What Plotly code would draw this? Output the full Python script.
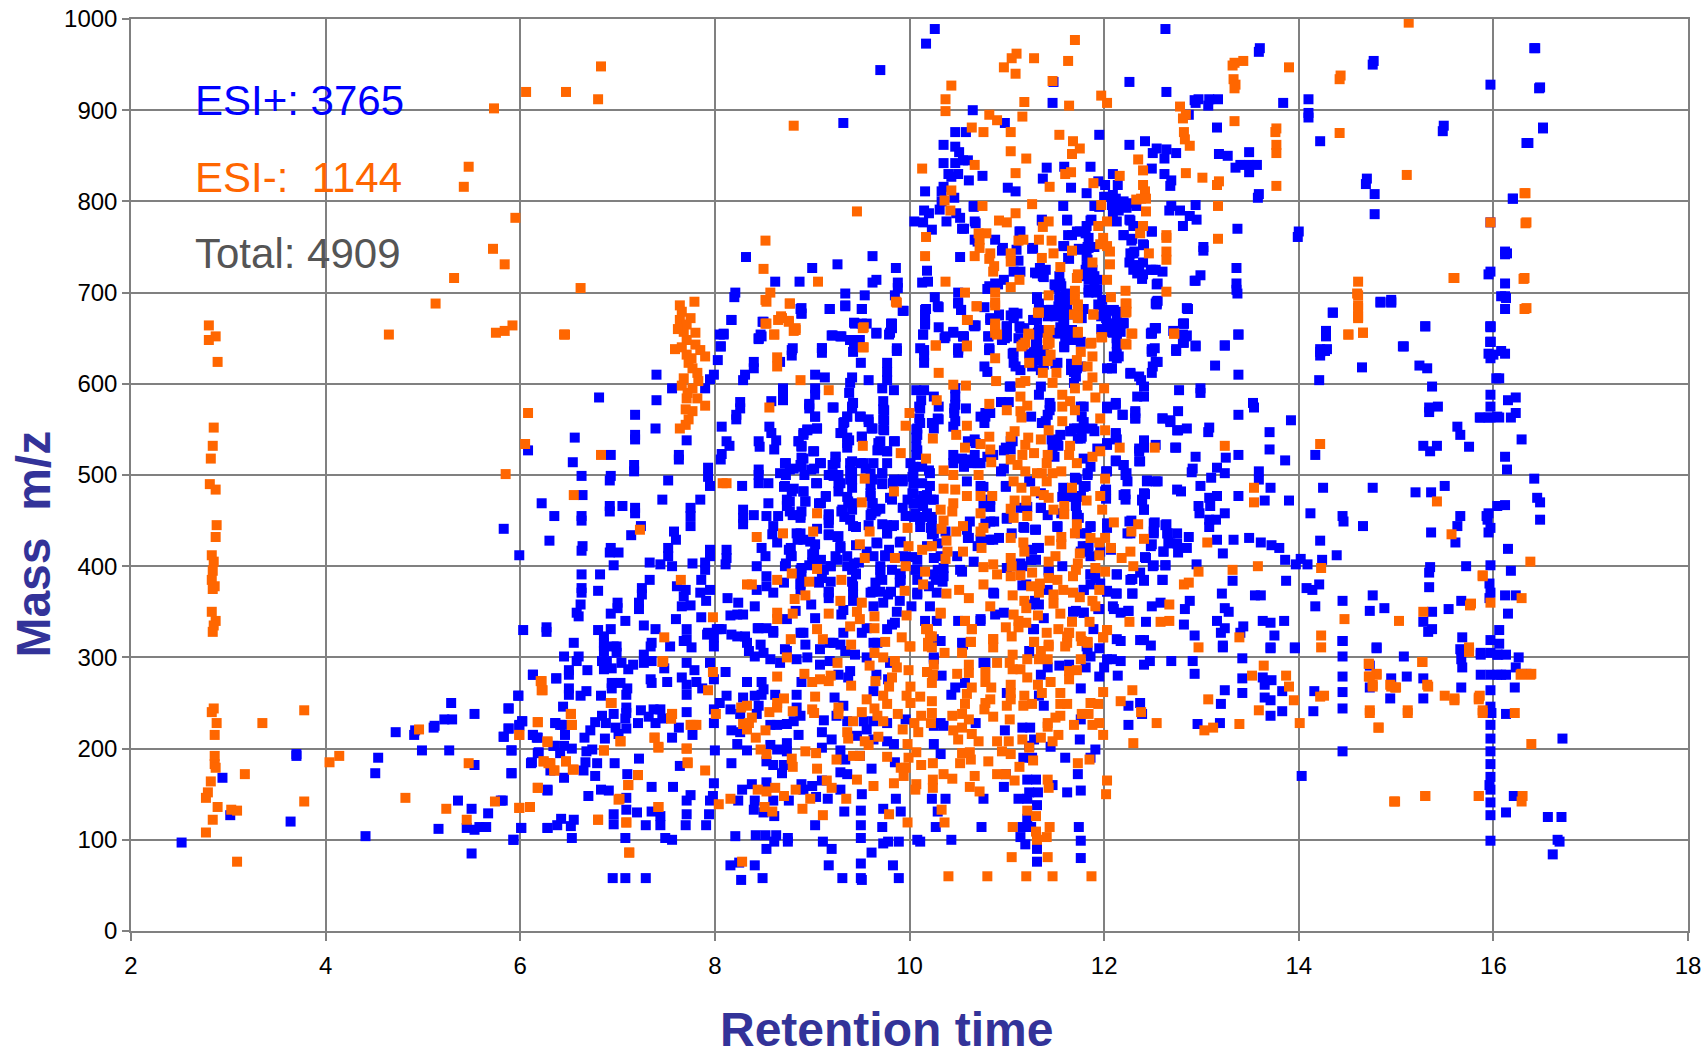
import plotly.graph_objects as go

x_ticks = [2, 4, 6, 8, 10, 12, 14, 16, 18]
y_ticks = [0, 100, 200, 300, 400, 500, 600, 700, 800, 900, 1000]
labels = ["ESI+: 3765", "ESI-:  1144", "Total: 4909"]
x_title = "Retention time"
y_title = "Mass  m/z"

# ESI+ : (retention time, mass)
pos_low_left = [(2.52,97),(2.94,168),(3.02,127),(3.64,120),(3.70,194),(3.70,192),(4.41,104),(4.51,173),(4.54,190),(4.72,218),(4.92,220),(4.91,215),(4.99,198),(5.16,112),(5.11,223),(5.12,225),(5.22,232),(5.30,232),(5.27,198),(5.29,250),(5.36,143),(5.45,113),(5.50,134),(5.50,85),(5.53,238),(5.53,182),(5.53,111),(5.58,114),(5.65,114),(5.67,129),(5.80,143),(5.83,213),(5.88,222),(5.88,244),(5.91,198),(5.91,173),(5.93,100),(5.98,258),(5.99,225),(6.01,113),(6.02,230),(6.13,281),(6.13,215),(6.18,212),(6.18,195),(6.11,184),(6.28,113),(6.28,154),(6.36,228),(6.37,277),(6.43,226),(6.46,215),(6.35,203)]
pos_top_mid = [(10.26,989),(10.17,973),(9.70,944),(9.32,886),(12.26,931),(12.63,989),(12.64,920),(12.93,911),(11.48,931),(11.47,908),(10.65,900),(10.98,886),(10.47,876),(10.58,876),(10.35,862),(10.47,860),(10.51,854),(10.35,842),(10.47,842),(10.55,845),(10.60,845),(10.40,830),(10.50,830),(10.43,827),(10.75,828),(10.61,823),(10.16,811),(10.33,811),(10.35,816),(10.46,804),(10.15,790),(10.20,787),(10.31,791),(10.33,800),(10.05,778),(10.14,777),(10.38,778),(10.52,782),(10.48,787),(10.23,769),(10.67,778),(10.54,770),(10.66,795),(10.67,758),(10.88,758),(10.96,749),(10.52,739),(10.18,724),(10.13,711),(10.19,712),(9.62,740),(8.32,739),(9.00,727),(9.26,731),(9.86,727),(8.62,712),(8.87,712),(9.66,714),(9.62,711),(9.88,711),(9.88,705),(8.21,700),(8.20,695),(9.34,699),(9.54,697),(9.85,697),(8.88,682),(8.89,677),(9.18,682),(9.34,686),(9.51,682),(9.93,680),(8.17,670),(10.26,695),(10.29,685),(10.17,682),(10.16,676),(10.16,666),(10.50,700),(10.50,689),(10.53,681),(10.77,684),(10.82,707),(10.91,709),(10.83,670),(10.92,676),(11.07,678),(11.07,672),(11.00,663),(11.13,663),(11.13,767),(11.10,747),(11.27,749),(11.31,695),(11.33,688),(11.41,837),(11.37,825),(11.59,838),(11.86,838),(11.95,873),(11.66,815),(11.82,809),(11.01,815),(11.09,811),(11.58,795),(11.62,780),(11.87,780),(11.36,780),(11.90,795)]
pos_streak_12 = [(11.94,822),(12.01,818),(12.09,830),(12.14,818),(12.0,805),(12.09,807),(12.14,795),(12.23,793),(12.09,787),(12.20,800),(12.33,795),(12.26,780),(12.13,778),(12.30,773),(12.20,763),(12.28,757),(12.49,767),(12.40,753),(12.69,795),(12.67,790),(12.78,790),(12.81,773),(12.95,780),(12.88,784),(12.30,743),(12.26,733),(12.40,733),(12.50,725),(12.40,720),(12.60,723),(12.54,709),(12.93,713),(12.30,725),(12.26,862),(12.42,866),(12.54,858),(12.64,857),(12.74,853),(12.50,853),(12.62,847),(12.49,836),(12.62,830),(12.69,823),(12.68,817),(12.54,690),(12.54,687),(12.85,683),(12.81,666),(12.49,656),(12.52,661),(12.81,648),(11.63,763),(11.75,767),(11.82,773),(11.84,760),(11.84,749),(11.75,747),(11.82,740),(11.63,738),(11.58,751),(11.82,729),(11.80,718),(11.90,718),(11.90,707),(11.84,700),(11.92,700),(11.54,718),(11.49,709),(11.56,707),(11.34,727),(11.37,718),(11.29,722),(11.54,696),(11.53,685),(11.48,680),(11.61,690),(11.58,670),(11.65,676),(11.42,674),(11.56,661),(11.61,652),(11.68,648),(11.32,656),(11.30,645),(11.48,656),(11.27,670),(11.77,672),(11.94,687),(12.02,672),(12.09,680),(11.97,674),(12.04,665),(12.13,669),(12.20,667),(12.09,656),(11.97,660),(12.13,650),(10.95,648),(11.0,652),(10.81,652),(10.67,663),(10.45,656),(10.55,652),(10.36,650),(10.14,654),(10.11,639),(10.50,639),(10.82,639),(9.87,639),(9.39,648),(9.30,652),(9.21,653),(9.49,648),(9.66,656),(9.80,656),(9.82,666),(9.44,666),(9.56,666),(8.80,639),(9.10,639),(8.06,641),(8.09,654),(8.47,654),(8.45,650),(8.49,668),(12.71,658),(12.81,654),(12.52,639)]
pos_top_right = [(13.60,968),(13.59,964),(12.94,908),(12.97,912),(13.08,912),(13.17,912),(13.07,905),(13.84,908),(14.10,912),(14.10,897),(14.10,892),(14.77,954),(14.76,950),(16.43,968),(15.97,928),(16.47,924),(12.87,895),(13.16,881),(15.49,883),(15.48,877),(16.51,881),(14.22,866),(16.36,864),(13.49,854),(13.18,852),(13.27,850),(13.35,837),(13.40,840),(13.49,840),(13.57,840),(13.49,832),(14.70,825),(14.69,819),(14.78,808),(13.59,808),(13.58,804),(16.20,803),(14.78,786),(12.94,796),(13.37,770),(14.0,767),(13.99,761),(13.02,750),(13.02,746),(16.12,745),(16.14,743),(15.97,723),(12.99,719),(12.94,713),(13.36,727),(13.36,710),(13.36,703),(13.37,699),(12.55,691),(12.54,688),(12.86,682),(12.82,666),(12.53,661),(12.49,656),(12.85,653),(12.82,645),(12.94,642),(13.38,654),(13.24,642),(12.49,638),(12.74,638),(14.84,690),(14.95,692),(14.95,690),(14.35,678),(14.28,658),(14.28,653),(14.22,638),(14.29,638),(15.30,663),(15.07,641),(15.97,663),(15.97,646),(16.08,696),(16.13,694),(16.12,682),(16.08,636)]
pos_mid_a = [(7.40,610),(7.56,595),(6.81,585),(7.40,582),(7.18,566),(6.56,541),(7.39,551),(7.18,544),(7.18,539),(7.71,538),(6.08,527),(6.93,522),(7.63,522),(7.63,517),(6.54,514),(7.17,511),(7.17,504),(6.63,499),(6.93,499),(6.92,494),(7.52,494),(7.93,508),(7.93,498),(7.95,488),(6.64,478),(6.22,469),(7.46,473),(7.85,473),(6.92,466),(6.92,460),(7.05,466),(7.18,464),(7.18,458),(6.63,455),(6.63,450),(6.35,455),(7.75,464),(7.75,455),(7.75,444),(7.24,444),(5.83,441),(6.30,428),(7.14,434),(7.58,438),(7.60,429),(6.64,422),(6.63,417),(6.93,420),(6.92,415),(7.01,415),(7.52,420),(7.52,411),(5.99,412),(7.33,404),(7.44,402),(7.56,400),(6.96,401),(7.77,403),(7.95,418),(7.95,411),(7.90,404),(7.90,396),(8.12,418),(8.12,409),(8.11,402),(6.63,391),(6.82,391),(7.33,385),(7.86,385),(6.63,376),(6.63,371),(6.80,373),(7.25,376),(7.25,369),(7.61,378),(7.70,374),(7.85,371),(7.95,374),(7.68,367),(7.91,362),(6.62,358),(7.0,360),(7.22,360),(7.22,353),(7.0,354),(7.66,356),(7.75,357),(6.58,349),(6.60,345),(6.93,348),(7.08,340),(7.60,342),(7.86,344),(8.13,365),(8.24,360),(8.41,356),(8.23,347),(8.16,346),(8.29,347),(6.03,330),(6.27,333),(6.27,328),(6.80,330),(6.93,331),(6.86,323),(7.27,335),(7.39,331),(7.71,331),(7.68,318),(7.93,327),(8.02,331),(8.07,331),(7.99,322),(8.17,325),(8.31,323),(8.45,332),(8.53,332),(8.60,327),(8.47,314),(6.55,316),(6.86,312),(6.96,312),(7.35,316),(7.54,312),(7.76,311),(7.99,312),(8.72,309),(8.93,314),(8.91,327),(8.74,342),(8.83,351),(8.99,358),(9.03,343),(9.30,347),(9.32,327),(9.22,316),(9.56,332),(9.63,316),(9.85,338),(9.77,331),(9.32,352),(9.42,362),(9.63,356),(9.87,350),(10.21,356),(10.16,340),(10.28,340),(10.50,340),(10.73,342),(10.88,347),(10.32,318),(10.54,316)]
pos_mid_b = [(8.05,654),(8.09,655),(8.06,641),(8.48,652),(8.45,649),(8.50,668),(8.17,670),(8.79,637),(8.79,631),(9.10,639),(9.10,634),(9.18,682),(9.34,685),(9.51,682),(9.94,680),(8.89,683),(8.89,677),(9.43,667),(9.51,666),(9.81,666),(9.82,661),(9.20,653),(9.29,652),(9.39,648),(9.66,655),(9.79,654),(10.16,681),(10.16,670),(10.16,665),(10.30,684),(10.30,662),(10.53,681),(10.50,688),(10.66,664),(10.85,670),(10.14,654),(10.45,657),(10.37,652),(10.55,652),(10.81,652),(9.42,635),(9.43,643),(9.87,636),(10.15,637),(10.15,631),(10.15,623),(10.50,634),(10.50,637),(10.82,637),(9.50,623),(9.77,623),(9.77,613),(8.03,626),(8.40,624),(8.40,617),(8.67,624),(8.31,610),(8.29,604),(7.99,610),(7.95,605),(7.90,595),(9.03,610),(9.13,607),(9.41,607),(9.58,604),(9.39,601),(9.77,604),(9.72,595),(9.84,593),(8.70,595),(8.70,588),(8.70,582),(9.03,595),(9.03,588),(9.38,590),(10.07,593),(10.15,593),(10.12,582),(10.11,573),(10.25,586),(10.30,575),(10.47,595),(10.47,586),(10.46,573),(10.58,573),(8.26,580),(8.26,573),(8.22,566),(8.22,561),(8.58,581),(8.97,578),(8.97,573),(9.21,574),(9.42,579),(9.41,573),(9.73,581),(9.73,572),(9.73,561),(9.73,550),(9.36,564),(9.32,557),(9.49,564),(9.58,561),(9.61,551),(9.03,564),(8.07,553),(8.56,553),(8.58,546),(9.05,551),(8.95,550),(8.91,544),(9.29,546),(9.36,541),(9.51,542),(10.11,557),(10.07,550),(10.07,541),(10.25,551),(10.30,561),(10.47,559),(10.45,553),(10.73,564),(10.78,568),(10.77,557),(10.67,539),(10.60,537),(8.12,537),(8.15,532),(8.07,523),(8.06,517),(8.45,537),(8.46,531),(8.63,538),(8.61,528),(8.86,537),(8.89,532),(9.01,526),(9.36,535),(9.36,530),(9.68,535),(9.68,528),(9.77,526),(9.85,537),(10.07,531),(10.07,522),(9.24,520),(9.24,513),(9.39,513),(9.53,513),(9.63,513),(9.77,513),(10.45,522),(10.45,513),(10.60,517),(10.67,522),(10.73,513),(10.86,522)]
pos_mid_c = [(8.45,506),(8.45,500),(8.72,513),(8.67,502),(8.77,506),(8.89,519),(8.89,509),(8.99,506),(9.08,513),(9.22,499),(9.17,500),(9.27,500),(9.41,504),(9.41,495),(9.60,502),(9.72,502),(9.72,490),(10.04,509),(10.04,502),(10.13,509),(10.21,502),(10.04,491),(10.13,491),(10.21,488),(9.93,493),(8.45,491),(8.55,491),(8.28,488),(8.72,488),(9.04,491),(9.29,491),(9.41,486),(9.60,489),(9.83,491),(10.04,480),(10.14,477),(10.25,473),(10.59,493),(10.73,488),(10.76,466),(10.83,473),(8.79,482),(8.91,482),(8.77,471),(8.74,466),(8.93,471),(9.14,477),(9.07,469),(9.27,482),(9.37,471),(9.60,477),(9.80,475),(9.62,469),(10.04,469),(10.14,466),(8.55,469),(9.30,460),(9.41,462),(9.66,462),(9.93,464),(10.06,458),(10.18,458),(8.77,460),(8.89,460),(8.29,462),(8.40,456),(8.53,455),(8.65,455),(8.88,453),(9.17,457),(9.39,451),(9.61,458),(9.96,455),(8.29,453),(8.29,446),(8.60,444),(9.17,447),(9.42,444),(9.72,446),(9.82,444),(10.11,451),(10.23,444),(10.62,449),(10.83,449),(8.59,435),(8.84,436),(8.91,429),(9.17,435),(9.27,433),(9.77,436),(9.90,426),(10.23,435),(10.60,431),(10.73,429),(10.86,429),(8.64,426),(9.03,424),(9.66,426),(9.29,420),(9.56,416),(8.48,420),(8.76,418),(8.79,411),(8.52,411),(9.0,413),(9.24,411),(9.75,411),(9.94,411),(10.08,407),(10.25,409),(10.49,411),(10.66,405),(8.43,400),(8.72,400),(8.89,398),(9.0,404),(9.19,400),(9.36,400),(9.48,404),(9.70,400),(10.08,396),(10.35,398),(10.54,394),(8.89,391),(9.10,387),(9.45,391),(9.70,389),(8.53,389),(9.90,391),(10.25,391),(8.53,378),(8.71,382),(9.07,382),(9.42,378),(9.65,382),(9.90,382),(10.28,371),(8.43,374),(8.60,371),(8.88,380),(9.17,371),(9.42,369),(9.60,371),(9.78,369),(10.08,371),(10.86,371),(9.17,365),(9.73,360),(9.90,362),(10.02,356)]
pos_right_a = [(12.53,688),(12.86,682),(14.84,689),(14.95,689),(14.35,678),(12.82,666),(12.53,661),(12.49,655),(13.38,654),(12.84,652),(14.28,657),(14.28,652),(15.30,663),(15.97,663),(12.81,645),(12.94,641),(12.49,636),(12.74,636),(13.24,642),(15.97,646),(15.08,641),(14.22,635),(14.27,636),(14.22,631),(12.55,624),(13.14,620),(13.38,610),(14.65,618),(15.24,620),(15.32,617),(15.97,628),(16.0,632),(12.27,612),(12.36,608),(12.49,612),(14.21,604),(12.41,597),(15.37,597),(12.77,593),(12.99,595),(12.99,590),(16.03,606),(15.97,588),(12.41,586),(12.34,586),(13.53,579),(13.54,574),(15.34,574),(15.43,575),(15.34,569),(15.97,575),(12.12,579),(12.03,573),(12.76,570),(12.32,570),(12.32,562),(12.19,566),(13.38,566),(13.92,560),(15.87,563),(15.97,563),(16.04,564),(12.60,562),(12.68,560),(15.63,553),(12.85,551),(12.76,549),(13.08,552),(13.07,547),(13.70,547),(15.66,544),(12.41,538),(12.12,546),(11.88,551),(11.79,551),(11.69,551),(11.77,542),(12.74,530),(13.70,528),(15.28,532),(15.42,532),(15.35,526),(15.75,531),(14.17,522),(12.41,530),(12.36,526),(12.37,515),(12.13,539),(12.03,533),(13.38,522),(13.86,516),(12.94,520),(12.91,507),(12.90,503),(13.25,519),(13.16,508),(13.24,502),(13.10,497),(13.59,504),(13.59,495),(12.12,516),(12.20,511),(12.23,502),(12.24,493),(12.02,504),(11.83,502),(11.70,497),(12.44,494),(12.53,493),(13.71,486),(14.25,486),(14.76,486),(15.50,488),(12.79,482),(12.99,488),(15.20,481),(15.36,481),(13.38,477),(13.65,472),(13.90,472),(12.01,482),(12.22,479),(12.02,474),(12.42,479),(12.39,472),(12.41,462),(11.81,488),(11.76,477),(11.71,466),(13.16,477),(13.08,475),(12.97,466),(13.09,466),(12.98,458),(13.24,458),(13.08,451),(13.15,451),(13.08,443),(14.12,458),(14.45,455),(14.46,449),(15.66,455),(15.95,458),(16.04,466),(15.94,451),(15.97,442),(15.63,444),(14.66,444)]
pos_right_b = [(12.28,450),(12.52,448),(12.64,446),(12.51,438),(12.65,436),(12.24,436),(12.87,432),(15.36,437),(13.16,429),(13.33,429),(13.49,431),(13.61,426),(13.72,423),(13.80,420),(14.22,428),(15.61,426),(12.66,426),(12.61,416),(12.49,424),(12.85,420),(12.76,415),(13.22,414),(13.86,407),(14.02,408),(13.97,402),(14.09,402),(14.24,407),(14.39,412),(12.42,410),(12.50,400),(12.63,401),(12.95,402),(15.35,399),(15.34,393),(15.72,400),(12.03,447),(11.86,444),(11.74,453),(11.52,444),(11.29,440),(11.17,443),(12.37,393),(12.13,391),(12.29,386),(12.41,384),(12.60,385),(13.32,384),(13.87,384),(14.21,380),(14.08,376),(14.14,374),(15.34,377),(15.96,381),(15.97,371),(13.21,370),(13.55,368),(13.61,368),(12.13,370),(12.29,370),(12.03,373),(14.76,368),(12.88,362),(14.45,362),(15.67,362),(15.96,365),(14.17,356),(14.73,351),(14.88,354),(15.54,353),(12.49,356),(12.58,360),(12.83,353),(13.24,354),(13.28,350),(12.09,356),(12.17,349),(12.25,351),(11.94,353),(15.37,350),(12.43,339),(12.82,336),(13.16,340),(13.24,332),(13.43,334),(13.63,340),(13.71,338),(13.85,340),(15.28,339),(15.37,331),(15.33,328),(12.93,324),(13.20,327),(13.40,327),(13.75,324),(12.13,320),(12.17,318),(12.37,319),(12.41,319),(12.48,313),(14.45,318),(15.68,322),(15.97,319),(13.22,313),(13.71,311),(13.96,311),(14.80,311),(15.66,309)]
pos_dense_11 = [(11.45,681),(11.55,685),(11.38,681),(11.50,674),(11.60,677),(11.11,677),(11.31,670),(11.18,661),(11.0,663),(11.35,657),(11.59,659),(10.98,650),(11.52,655),(11.65,648),(11.76,646),(11.59,641),(12.03,666),(12.13,666),(12.0,677),(12.10,681),(11.96,686),(11.79,682),(12.05,657),(12.13,650),(11.28,635),(11.32,630),(11.07,634),(11.07,623),(11.14,615),(11.38,621),(11.52,623),(11.66,615),(11.72,617),(12.13,635),(12.13,628),(12.08,617),(11.03,597),(11.35,597),(11.33,588),(11.44,579),(11.44,571),(11.79,575),(11.77,564),(11.69,601),(11.25,564),(11.40,559),(11.73,540),(11.46,539),(11.53,532),(11.04,537),(10.99,530),(11.04,528),(11.65,548),(11.49,520),(10.97,507),(11.72,495),(11.24,493),(11.35,480),(11.35,464),(11.14,464),(11.0,453),(10.99,488),(11.58,486),(11.56,458),(11.05,436),(11.31,420),(11.25,407),(11.82,436),(11.84,422),(11.76,416),(11.16,400),(11.43,396),(11.57,400),(11.86,391),(11.91,387),(11.0,398),(11.20,380),(11.42,374),(11.79,374),(11.86,380),(11.29,362),(11.68,350),(11.79,349),(11.38,343),(11.28,331),(10.97,349),(11.89,331),(11.82,312)]
pos_low_a = [(6.45,301),(6.60,301),(6.58,296),(6.84,296),(6.89,296),(6.99,305),(7.04,294),(7.16,292),(7.11,287),(7.27,294),(7.35,296),(7.27,303),(7.48,288),(7.71,294),(7.95,294),(7.79,286),(6.50,286),(6.50,281),(6.69,286),(6.94,288),(6.86,287),(6.13,281),(6.37,277),(7.34,276),(7.35,272),(7.51,273),(6.94,272),(7.03,272),(7.66,278),(7.71,270),(7.81,273),(7.99,276),(8.11,284),(6.50,266),(6.50,259),(6.68,263),(6.62,258),(7.10,266),(7.09,259),(6.94,266),(6.83,258),(5.98,258),(7.71,259),(7.87,266),(8.12,258),(8.29,256),(8.33,273),(8.48,273),(8.41,258),(8.48,259),(8.62,259),(8.50,265),(8.84,259),(8.89,273),(9.23,256),(5.88,244),(6.44,246),(7.09,245),(7.09,239),(7.24,242),(7.37,243),(7.44,243),(6.84,236),(6.96,238),(7.32,235),(7.46,233),(7.08,233),(7.71,240),(8.05,250),(7.99,243),(8.16,243),(8.26,238),(8.45,247),(8.43,238),(8.84,245),(8.88,236),(9.32,247),(9.25,236),(6.02,230),(6.36,228),(6.41,226),(6.77,229),(6.88,228),(6.98,223),(7.09,222),(7.21,228),(7.39,228),(7.99,228),(8.64,226),(8.74,227),(8.81,230),(9.12,231),(9.36,230),(9.53,230),(9.63,230),(5.88,222),(5.99,226),(6.72,220),(7.63,223),(8.17,220),(8.26,218),(8.57,226),(8.86,215),(9.10,218),(9.77,228),(5.83,213),(6.13,215),(6.17,212),(6.66,212),(6.87,211),(7.01,216),(7.56,212),(7.77,215),(9.20,210),(9.46,214),(9.84,205)]
pos_low_b = [(5.91,198),(6.19,196),(6.34,203),(6.45,203),(6.53,200),(6.68,197),(6.74,199),(8.0,198),(8.23,205),(8.33,198),(8.57,204),(8.64,199),(8.74,206),(8.74,197),(9.10,201),(9.29,198),(10.25,205),(10.32,194),(9.85,185),(6.12,185),(6.41,195),(6.67,185),(6.79,184),(6.97,184),(7.22,189),(8.17,184),(8.53,186),(8.60,182),(8.71,182),(9.34,188),(9.49,192),(5.91,173),(6.31,176),(6.45,168),(6.65,176),(6.77,170),(7.10,172),(7.64,181),(8.69,173),(9.61,178),(9.29,174),(9.36,172),(6.83,155),(6.91,154),(6.28,155),(6.70,148),(7.09,146),(7.35,158),(7.57,158),(7.75,149),(7.99,162),(7.71,143),(7.98,148),(7.95,143),(8.28,155),(8.38,161),(8.53,163),(8.89,161),(9.0,159),(8.91,155),(9.29,155),(9.10,165),(9.51,150),(5.82,143),(8.24,143),(8.41,143),(8.60,143),(8.76,143),(9.04,147),(9.16,145),(9.86,145),(10.23,145),(10.37,145),(10.76,145),(6.96,128),(7.09,133),(7.20,130),(7.35,131),(7.44,126),(7.71,128),(7.94,128),(8.40,133),(8.50,130),(8.61,126),(9.33,131),(9.50,132),(9.73,134),(9.91,131),(10.29,131),(6.42,123),(6.55,122),(6.38,116),(6.28,113),(6.52,115),(6.01,113),(6.96,117),(7.29,116),(7.44,116),(7.70,116),(7.91,116),(9.03,116),(9.50,116),(9.72,114),(10.27,114),(10.74,114),(5.93,100),(6.53,102),(7.08,102),(7.49,102),(7.56,100),(8.21,104),(8.42,105),(8.52,105),(8.63,105),(8.75,102),(8.75,98),(8.61,98),(9.11,98),(9.50,102),(9.73,96),(9.78,98),(9.89,98),(10.08,100),(10.11,98),(10.43,100),(8.53,90),(9.20,90),(9.61,86),(8.16,72),(8.25,75),(8.41,72),(9.17,72),(9.50,74),(9.83,72),(6.95,58),(7.08,58),(7.29,58),(8.27,56),(8.49,58),(9.31,58),(9.50,58),(9.51,56),(9.89,58),(9.56,300),(9.80,294),(9.66,281),(9.63,263),(9.78,276),(9.39,285),(9.37,278),(9.27,281),(9.08,292),(9.18,296),(8.95,300),(8.84,298),(8.67,294),(8.57,298),(8.41,301),(8.35,307),(10.33,280),(10.47,267),(10.57,272),(10.43,259),(10.76,294),(10.32,228),(10.35,225),(10.25,225),(10.68,228),(9.96,232),(9.56,221),(9.63,210),(9.77,208),(10.25,300)]
pos_low_right = [(14.80,310),(14.45,318),(13.96,310),(13.71,310),(13.22,311),(13.42,299),(14.45,301),(15.08,301),(15.67,308),(15.68,289),(15.67,298),(15.87,305),(15.97,305),(16.04,303),(12.69,296),(12.91,296),(12.47,296),(12.41,292),(12.17,296),(12.03,298),(12.08,298),(12.0,289),(12.93,282),(12.14,280),(11.95,279),(13.42,277),(13.63,278),(13.72,275),(13.65,270),(14.45,279),(14.73,291),(15.11,279),(14.95,277),(15.28,277),(15.87,281),(15.97,281),(16.04,281),(11.76,266),(13.24,264),(13.42,261),(13.83,263),(14.16,263),(14.45,262),(14.73,267),(15.67,267),(15.97,264),(14.94,255),(15.28,255),(13.65,256),(13.71,253),(13.20,249),(12.25,247),(12.37,250),(14.45,244),(15.97,246),(15.98,239),(13.83,241),(13.71,236),(14.15,241),(12.39,238),(11.76,232),(12.25,226),(12.96,227),(13.19,228),(15.97,226),(15.97,211),(15.97,197),(15.97,183),(15.97,169),(15.96,160),(15.97,155),(15.97,141),(15.97,127),(15.97,99),(14.45,197),(14.03,170),(11.75,210),(11.91,199),(11.45,202),(11.86,190),(11.60,190),(11.73,172),(10.97,158),(11.47,160),(11.62,152),(11.76,154),(11.74,114),(11.76,99),(11.76,80),(11.21,166),(11.30,166),(11.23,152),(11.32,152),(11.12,145),(11.21,145),(11.31,138),(11.21,123),(11.16,114),(11.25,114),(11.14,103),(11.19,95),(11.31,90),(11.31,76),(10.99,172),(11.26,190),(11.17,190),(11.23,203),(11.28,210),(11.38,247),(11.24,223),(11.16,223),(10.98,220),(11.33,258),(11.0,261),(11.35,281),(11.42,289),(11.54,291),(11.64,292),(11.81,289),(11.86,301),(11.95,310),(11.83,307),(11.27,331),(11.24,358),(11.33,358),(11.23,307),(11.71,351),(11.79,349),(11.95,353),(12.10,353),(12.25,351)]
pos_edge_16 = [(16.13,130),(16.13,238),(16.22,267),(16.23,289),(16.26,300),(16.71,211),(16.56,125),(16.70,125),(16.66,100),(16.68,98),(16.61,84),(16.21,148),(15.87,303),(16.05,303),(16.13,303),(16.08,281),(16.13,281),(15.97,662),(15.97,646),(15.95,633),(16.12,633),(16.06,606),(16.23,585),(16.15,582),(16.23,568),(15.86,563),(15.95,563),(16.06,563),(16.18,563),(16.29,539),(16.42,496),(16.45,475),(16.48,470),(16.48,451),(16.12,520),(16.14,506),(16.12,467),(15.93,455),(15.95,437),(16.15,419),(15.97,401),(16.18,395),(16.23,368),(16.12,368),(16.15,348),(16.06,330),(16.06,315),(16.34,282),(16.12,710),(16.12,742),(16.12,696),(15.95,720),(16.42,968),(16.48,925),(16.51,880),(16.34,864),(16.2,803),(15.97,777)]
pos_extra_a = [(11.86,779),(11.81,765),(11.72,767),(11.83,750),(11.74,748),(11.90,750),(11.83,736),(11.81,725),(11.88,725),(11.84,714),(11.93,714),(11.84,703),(11.93,703),(11.55,710),(11.50,706),(11.60,699),(11.54,692),(11.48,681),(11.43,679),(11.55,681),(11.62,684),(11.59,668),(11.62,659),(11.55,662),(11.60,648),(11.67,659),(11.59,640),(11.33,659),(11.31,648),(11.35,637),(11.23,633),(11.30,626),(11.38,633),(11.26,619),(11.35,615),(11.50,622),(11.66,622),(11.69,613),(11.71,608),(11.76,619),(11.98,692),(12.0,681),(12.03,666),(12.12,662),(12.20,666),(12.03,659),(12.13,679),(12.15,630),(12.13,644),(12.08,617),(12.27,611),(12.38,604),(12.50,619),(12.49,635),(12.53,624),(12.53,661),(12.48,655),(12.34,721),(12.39,715),(12.48,725),(12.53,725),(12.55,710),(12.27,743),(12.31,730),(12.36,730),(12.31,745),(12.41,752),(12.20,763),(12.29,759),(12.49,767),(12.08,796),(12.15,790),(12.24,798),(12.12,803),(12.27,779),(12.02,805),(11.95,794),(11.62,779),(11.36,779),(11.14,767),(11.67,763),(11.26,748),(11.59,751),(11.64,737),(11.12,735),(11.14,723),(11.07,723),(11.40,725),(11.31,721),(11.38,717),(10.95,746),(10.97,714),(10.88,710),(10.80,704),(10.68,776),(10.66,794),(10.70,756),(10.56,770),(11.31,693),(11.45,681),(11.04,675),(10.92,675),(10.83,672),(11.07,675),(11.14,661),(11.0,662),(11.28,670),(10.68,664),(10.95,650),(11.0,652),(11.12,650),(10.56,652),(10.82,637),(11.06,633),(11.09,619),(10.77,619),(10.80,613),(11.04,597),(12.03,617),(12.10,630),(12.17,657)]
pos_extra_b = [(8.97,577),(9.22,574),(9.03,564),(9.36,564),(9.41,575),(9.50,564),(9.58,558),(9.62,551),(9.33,558),(9.74,571),(9.74,560),(9.74,549),(9.05,551),(8.95,549),(8.91,546),(9.31,546),(9.38,538),(9.51,542),(9.84,537),(8.86,537),(8.89,531),(9.70,537),(9.67,527),(9.77,526),(9.02,526),(9.24,520),(8.91,518),(9.09,513),(9.21,511),(9.41,515),(9.50,513),(8.88,511),(8.73,513),(8.81,507),(9.02,507),(9.19,500),(9.39,505),(9.55,507),(9.72,502),(9.84,495),(9.93,495),(8.92,500),(8.73,500),(8.81,485),(8.91,482),(9.27,491),(9.39,495),(9.62,495),(9.72,491),(9.05,491),(8.71,487),(8.74,473),(8.93,471),(9.09,469),(9.14,476),(9.36,476),(9.41,469),(9.60,480),(9.62,469),(9.82,473),(9.31,462),(8.80,456),(8.88,456),(9.17,456),(9.33,454),(9.65,460),(9.60,456),(9.70,463),(9.98,473),(10.03,480),(10.18,478),(10.11,473),(10.22,473),(10.05,454),(10.15,454),(10.23,454),(10.06,469),(10.03,498),(10.01,513),(10.20,505),(10.08,527),(10.08,544),(10.08,551),(10.23,557),(10.29,562),(10.46,568),(10.47,577),(10.68,535),(10.63,513),(10.70,513),(10.56,509),(10.54,518),(10.10,575),(10.10,562),(8.88,436),(8.98,427),(9.05,441),(9.17,451),(9.17,434),(9.26,432),(9.29,422),(9.02,414),(8.78,420),(8.78,412),(8.85,429),(9.45,443),(9.58,445),(9.77,445),(9.84,445),(9.77,436),(9.45,423),(9.67,425),(9.79,418),(9.75,412),(9.91,427),(9.96,410),(10.03,410),(10.11,443),(10.22,442),(10.25,436),(10.18,422),(10.37,438),(10.61,431),(10.59,440),(10.70,422),(10.29,425),(9.26,407),(9.09,407),(8.73,403),(8.88,396),(8.97,401),(9.19,400),(9.12,396),(9.36,411),(9.43,403),(9.41,396),(9.63,411),(9.70,396),(9.77,411),(9.72,385),(9.91,392),(10.06,396),(10.08,385),(10.32,411),(10.29,396),(10.27,385),(10.35,389),(10.52,396),(8.88,385),(9.07,383),(9.19,383),(8.88,374),(9.17,372),(9.41,383),(9.45,392),(9.62,372),(9.70,372),(9.81,372),(9.91,385),(10.08,369),(10.20,378),(10.34,383),(9.82,396)]
pos_extra_c = [(10.78,564),(11.42,566),(11.36,557),(11.45,575),(11.76,575),(11.79,558),(11.72,551),(11.90,548),(11.76,540),(11.66,548),(11.55,544),(11.52,535),(11.47,529),(11.06,537),(10.97,527),(10.94,580),(11.02,580),(10.83,568),(12.03,575),(12.12,577),(12.19,566),(12.32,568),(12.32,562),(12.60,562),(12.68,558),(12.75,549),(12.03,535),(11.93,529),(12.12,544),(12.12,515),(12.20,511),(12.22,500),(12.36,529),(12.36,515),(12.41,537),(12.53,533),(12.73,530),(11.79,518),(11.86,509),(11.83,500),(12.03,504),(11.71,496),(11.79,487),(11.66,476),(11.71,467),(11.76,476),(11.57,476),(10.80,520),(10.76,487),(10.99,487),(11.23,493),(11.35,464),(11.42,456),(11.21,465),(10.94,504),(10.83,465),(10.78,447),(10.87,449),(11.0,452),(11.18,442),(11.30,440),(11.52,443),(11.72,456),(11.86,443),(11.76,436),(12.03,442),(12.26,449),(12.27,436),(12.02,484),(12.02,478),(12.20,478),(12.22,473),(12.41,480),(12.39,473),(12.41,462),(12.44,493),(12.55,493),(12.75,484),(12.51,447),(12.63,445),(12.51,436),(12.65,436),(12.75,436),(12.61,416),(12.48,422),(12.43,409),(12.51,401),(12.63,401),(12.68,425),(12.75,425),(10.82,429),(10.92,431),(11.33,420),(11.26,418),(11.78,422),(11.83,416),(11.96,416),(11.11,400),(11.25,407),(11.30,407),(11.43,394),(11.14,403),(11.86,411),(12.07,418),(11.86,391),(12.13,391),(12.27,385),(12.41,385),(12.60,385),(11.96,381),(10.87,370),(11.16,379),(11.79,374),(12.03,372),(12.12,370),(12.29,370)]
pos_extra_d = [(9.29,314),(9.18,316),(9.51,327),(8.88,327),(8.44,332),(8.60,329),(8.33,316),(8.23,323),(8.04,331),(7.92,325),(7.71,320),(6.86,316),(7.34,312),(6.99,312),(6.86,307),(9.67,316),(9.82,336),(10.25,320),(10.55,314),(10.73,340),(10.25,298),(10.78,294),(9.34,307),(9.44,303),(9.08,309),(8.74,307),(8.50,305)]

# ESI- : (retention time, mass)
neg_left = [(2.80,664),(2.87,652),(2.80,648),(2.89,624),(4.65,654),(5.13,688),(5.32,716),(5.42,816),(5.47,838),(5.73,902),(6.06,920),(6.47,920),(6.80,912),(6.83,948),(5.95,782),(5.72,748),(5.84,731),(6.62,705),(5.75,656),(5.84,658),(5.92,664),(6.46,654),(2.85,552),(2.84,532),(2.82,518),(2.81,490),(2.87,484),(2.88,445),(2.87,432),(2.83,412),(2.85,405),(2.84,395),(2.83,385),(2.86,378),(2.84,375),(2.83,350),(2.87,340),(2.85,335),(2.84,328),(2.85,244),(2.83,240),(2.88,228),(2.86,215),(2.86,192),(2.86,183),(2.87,179),(2.82,164),(2.79,152),(2.77,146),(2.89,136),(2.84,122),(2.77,108),(3.09,76),(3.03,133),(3.09,132),(3.17,172),(3.35,228),(3.78,242),(3.78,142),(4.04,185),(4.14,192),(4.82,146),(4.96,221),(5.24,134),(5.45,122),(5.47,184),(5.74,142),(5.99,135),(6.10,136),(5.99,215),(6.18,229),(6.22,274),(6.22,264),(6.28,208),(6.18,157),(6.24,186),(6.29,184),(6.35,176),(6.47,186),(6.55,177),(6.52,238),(6.53,226),(6.94,250),(6.86,198),(7.03,208),(6.80,122),(7.01,144),(7.09,119),(7.12,86),(7.11,160),(7.21,171),(7.38,212),(7.42,202),(7.42,136),(7.46,295),(7.56,238),(7.55,233),(7.71,200),(7.72,184),(7.78,226)]
neg_top_mid = [(11.70,977),(11.10,962),(11.05,957),(11.28,957),(11.63,954),(10.97,947),(11.09,940),(10.43,927),(11.47,932),(10.37,912),(10.37,899),(11.18,909),(11.64,905),(11.97,916),(12.03,908),(10.82,895),(10.90,889),(11.16,893),(8.81,883),(10.64,881),(10.76,876),(11.04,876),(11.54,873),(11.68,866),(11.75,858),(11.67,852),(11.04,855),(11.20,847),(10.67,840),(10.13,836),(11.09,831),(11.66,832),(11.60,830),(11.89,820),(11.44,816),(10.43,812),(10.36,801),(10.75,795),(11.26,797),(9.46,789),(10.42,790),(11.09,787),(10.92,779),(11.0,777),(11.43,778),(11.37,772),(11.97,796),(12.16,828),(12.35,846),(12.40,834),(12.40,818),(12.42,811),(12.38,803),(12.33,802),(12.43,803),(12.43,789),(12.78,904),(12.84,895),(12.81,891),(12.82,876),(12.83,868),(12.88,861),(12.84,831),(12.40,773),(12.37,765),(12.03,778),(11.94,773),(11.99,760),(11.96,753),(12.03,751),(12.06,745),(11.88,733),(12.06,731),(12.03,714),(12.64,763),(12.64,760),(12.64,745),(12.64,736),(12.46,743),(12.22,702),(12.64,701),(12.07,695),(12.22,688),(12.22,678),(11.89,676),(12.72,655),(12.28,655),(11.97,651),(12.22,644),(11.73,657),(11.86,644),(10.79,765),(10.71,765),(10.72,758),(10.72,749),(10.67,740),(10.83,743),(10.82,737),(11.04,743),(11.04,734),(11.12,757),(11.17,758),(11.33,758),(11.46,757),(11.67,746),(11.48,743),(11.36,738),(11.55,728),(10.87,729),(10.86,723),(11.13,714),(11.73,720),(11.72,716),(10.37,712),(11.04,706),(11.70,702),(11.70,692),(11.73,687),(11.73,681),(10.57,700),(10.88,700),(10.88,689),(11.43,697),(10.69,685),(11.32,678),(11.69,676),(11.73,672),(10.17,761),(10.16,740),(10.59,670),(10.88,661),(10.88,656),(11.43,659),(11.42,650),(11.42,643),(11.22,655),(11.19,645),(11.15,641),(10.27,642),(10.59,641),(9.52,661),(9.52,640),(8.52,757),(8.50,726),(9.06,712),(8.57,700),(8.52,692),(8.77,688),(9.86,690),(8.68,674),(8.65,670),(8.76,669),(8.52,666),(8.61,654),(8.83,661),(8.81,658)]
neg_top_right = [(15.13,996),(13.43,954),(13.34,952),(13.32,949),(13.90,947),(14.43,938),(14.42,934),(13.33,934),(13.35,928),(13.34,924),(13.34,888),(14.42,875),(13.77,880),(13.76,876),(13.77,862),(13.77,853),(15.11,829),(13.18,822),(13.16,818),(13.01,826),(13.77,817),(13.17,795),(16.33,809),(15.97,777),(16.34,777),(13.17,759),(15.60,716),(16.32,716),(14.61,712),(14.60,699),(14.61,697),(14.61,683),(14.61,672),(14.66,656),(14.51,654),(16.34,683)]
neg_col_77 = [(7.64,686),(7.66,679),(7.64,670),(7.75,672),(7.71,665),(7.68,657),(7.80,656),(7.71,648),(7.80,643),(7.59,638),(7.71,632),(7.85,637),(7.90,630),(7.73,623),(7.77,617),(7.68,606),(7.83,603),(7.66,598),(7.77,595),(7.71,584),(7.82,584),(7.90,576),(7.70,572),(7.77,570),(7.73,561),(7.70,555),(7.64,551),(7.79,690),(7.62,660),(7.76,628),(7.66,640),(7.82,612),(7.72,590)]
neg_mid = [(6.45,654),(6.08,568),(6.05,534),(6.83,522),(5.85,501),(6.55,478),(7.23,440),(8.08,491),(8.12,491),(7.65,385),(8.38,380),(8.33,380),(7.98,344),(7.48,322),(8.43,432),(8.70,436),(9.01,438),(9.05,458),(8.64,629),(8.64,619),(8.53,666),(8.69,672),(8.76,668),(8.83,659),(8.61,654),(8.77,688),(8.53,690),(8.88,604),(9.17,593),(8.56,574),(9.53,662),(9.53,640),(9.87,689),(10.0,568),(9.96,554),(9.52,532),(9.91,524),(9.54,496),(9.84,482),(9.51,470),(9.59,438),(9.98,442),(9.49,424),(9.99,422),(9.54,409),(9.85,409),(9.96,400),(8.79,392),(8.64,385),(9.05,397),(8.97,383),(9.30,385),(8.93,368),(8.82,364),(9.29,362),(9.51,360),(9.17,348),(9.46,350),(8.80,348),(8.64,349),(8.64,342),(9.64,345),(9.49,342),(9.39,334),(9.05,331),(9.64,332),(9.11,320),(8.78,320),(9.40,314),(9.75,317),(9.92,322),(9.97,346),(9.95,373),(10.16,394),(10.14,380),(10.38,370),(10.51,374),(10.61,365),(10.32,348),(10.57,340),(10.83,356),(10.76,380),(10.64,331),(10.17,331),(10.21,323),(10.19,312),(10.63,317),(10.86,320),(10.0,312),(10.17,518),(10.24,540),(10.30,612),(10.28,582),(10.27,642),(10.59,642),(10.60,670),(10.69,685),(10.45,599),(10.58,598),(10.82,578),(10.59,554),(10.48,544),(10.57,530),(10.73,534),(10.82,542),(10.83,528),(10.35,505),(10.45,500),(10.71,500),(10.84,514),(10.35,485),(10.47,484),(10.59,477),(10.73,477),(10.85,477),(10.45,469),(10.32,462),(10.44,460),(10.73,458),(10.35,450),(10.33,441),(10.55,444),(10.48,438),(10.73,438),(10.76,442),(10.38,428),(10.39,416),(10.37,408),(10.55,416),(10.74,420),(10.23,422),(10.13,418),(10.76,399),(10.86,402),(10.90,391),(10.88,666),(10.90,654),(10.88,628),(10.89,603),(10.88,686)]
neg_right_a = [(12.23,688),(12.23,679),(11.73,686),(11.73,674),(11.33,678),(11.89,676),(12.29,655),(12.72,655),(14.61,686),(14.61,674),(14.51,654),(14.66,656),(11.98,651),(12.23,643),(11.87,645),(11.73,656),(11.44,659),(11.44,645),(11.23,654),(11.17,643),(11.45,632),(11.42,625),(11.23,623),(11.76,635),(11.72,626),(11.88,630),(11.83,619),(11.37,612),(11.51,612),(11.47,601),(11.88,607),(11.83,598),(11.70,595),(12.0,595),(11.19,603),(11.14,601),(11.91,585),(11.57,588),(11.57,575),(11.65,581),(11.70,571),(11.14,586),(11.21,576),(11.14,570),(11.15,563),(11.0,571),(11.96,562),(11.57,559),(12.01,549),(11.43,549),(11.08,548),(11.04,542),(11.35,539),(11.22,541),(11.19,533),(11.16,522),(11.28,524),(11.65,532),(11.64,522),(11.72,513),(11.42,522),(11.41,513),(12.16,530),(11.96,526),(11.88,520),(12.52,530),(13.24,532),(14.22,534),(11.04,517),(11.11,511),(11.19,504),(11.31,502),(11.36,502),(11.47,502),(11.56,504),(12.01,496),(11.07,493),(11.41,493),(11.15,486),(11.29,482),(11.67,486),(11.38,478),(11.43,475),(11.08,472),(11.20,472),(11.82,472),(11.96,477),(11.48,462),(11.59,466),(11.04,463),(11.07,453),(11.21,455),(11.59,457),(11.98,462),(13.54,486),(13.54,470),(15.42,471),(12.10,448),(12.35,446),(12.28,438),(12.41,430),(11.72,446),(11.70,436),(11.56,432),(11.56,424),(11.44,428),(11.04,431),(11.17,426),(11.18,416),(11.86,431),(11.95,426),(12.01,431),(12.07,420),(11.95,412),(11.75,414),(11.50,411),(11.43,405),(12.18,409),(12.27,416),(12.30,400),(11.73,403),(11.71,396),(11.04,409),(11.05,400),(11.91,398),(12.01,394),(12.97,394),(13.32,396),(13.58,400),(14.23,398),(15.57,435),(13.06,426)]
neg_right_b = [(11.04,389),(11.14,390),(11.26,393),(11.68,389),(11.43,387),(11.52,385),(11.25,378),(11.34,381),(12.82,380),(12.87,382),(15.89,390),(11.95,374),(11.58,374),(11.68,371),(11.75,366),(11.48,369),(11.06,368),(11.33,371),(11.18,362),(11.48,359),(11.88,362),(11.91,356),(12.67,358),(15.77,359),(15.28,350),(11.20,354),(11.55,348),(11.07,347),(11.32,346),(14.47,342),(15.03,340),(11.67,339),(11.85,339),(12.26,339),(12.58,339),(12.67,340),(11.12,340),(11.20,338),(10.99,333),(11.12,333),(11.53,331),(11.41,327),(11.64,327),(12.03,330),(11.76,323),(11.83,317),(11.99,322),(11.05,323),(11.62,316),(11.43,314),(11.28,317),(13.39,322),(14.23,324),(14.23,311),(12.97,311),(15.75,311)]
neg_low_a = [(7.47,296),(7.98,284),(6.21,274),(6.23,264),(7.93,264),(6.93,250),(6.52,238),(6.18,229),(6.53,226),(7.56,238),(7.55,233),(8.01,238),(7.75,226),(7.81,226),(5.99,215),(7.38,212),(7.03,208),(6.28,207),(7.42,201),(6.86,198),(7.71,200),(6.24,186),(6.31,184),(6.47,186),(6.54,177),(6.35,176),(7.72,185),(7.90,176),(7.21,171),(7.11,160),(6.18,157),(7.02,145),(7.42,136),(5.99,135),(6.10,136),(6.80,122),(7.09,119),(7.12,86),(8.27,245),(8.33,247),(8.38,234),(8.35,228),(8.29,227),(8.33,221),(8.42,212),(8.52,220),(8.64,279),(8.74,300),(8.71,255),(8.64,250),(8.64,245),(8.56,240),(8.80,241),(8.47,199),(8.53,194),(8.79,189),(8.80,180),(8.93,197),(9.04,195),(9.05,178),(9.25,188),(9.42,192),(9.49,192),(8.44,155),(8.53,153),(8.62,157),(8.71,148),(8.83,155),(8.16,145),(8.04,139),(8.51,136),(8.59,131),(8.98,145),(8.90,134),(9.11,127),(9.35,145),(9.79,128),(9.98,119),(10.33,133),(10.36,119),(10.40,60),(10.80,60),(8.28,76),(8.92,282),(9.0,273),(9.08,276),(9.19,280),(9.17,274),(9.03,257),(9.26,294),(9.40,269),(9.59,291),(9.65,274),(9.56,254),(9.51,240),(9.27,245),(9.27,238),(9.0,243),(9.02,239),(9.42,230),(9.36,218),(9.37,211),(9.54,208),(9.58,204),(9.68,213),(9.64,244),(9.67,236),(9.73,230),(9.64,305),(9.73,300),(9.85,296),(9.87,289),(9.82,278),(9.79,268),(9.73,258),(9.77,249),(9.88,238),(9.93,221),(9.98,205),(10.07,196),(9.99,190),(9.77,191),(9.91,179),(9.96,179),(9.94,170),(9.84,162),(9.63,159),(9.46,166),(9.15,165),(9.20,157),(10.07,161),(10.06,155),(10.24,166),(10.24,157),(10.35,172),(10.44,167),(10.12,182),(10.24,184),(10.52,184),(10.54,195),(10.63,188),(10.62,196),(10.81,186),(10.67,170),(10.62,158),(10.72,153),(10.90,172),(9.99,286),(10.01,268),(9.97,258),(10.01,250),(10.11,257),(10.18,284),(10.25,292),(10.24,281),(10.23,272),(10.23,252),(10.23,239),(10.12,236),(10.05,228),(10.22,228),(10.09,218),(10.44,236),(10.54,238),(10.61,232),(10.54,223),(10.45,220),(10.50,210),(10.64,216),(10.71,208),(10.57,249),(10.59,260),(10.64,267),(10.49,282),(10.61,292),(10.61,283),(10.54,305),(10.36,305),(10.01,312),(10.19,331),(10.23,323),(10.19,316),(10.23,311),(10.63,317),(10.64,331),(10.57,340),(10.32,349),(10.86,320),(10.86,311),(10.90,294),(10.78,284),(10.78,273),(10.84,267),(10.83,254),(10.78,250),(10.77,243),(10.86,235),(10.90,208)]
neg_low_b = [(15.75,308),(14.72,293),(15.27,295),(13.64,291),(13.52,280),(13.87,280),(13.90,268),(14.80,282),(14.72,279),(14.76,270),(14.94,270),(14.99,267),(15.32,270),(12.29,264),(11.99,262),(12.17,252),(13.07,254),(13.95,253),(14.22,257),(14.26,258),(15.60,255),(15.85,256),(13.59,242),(14.73,242),(15.12,242),(15.89,242),(12.38,240),(12.54,228),(13.39,227),(14.01,228),(13.12,223),(13.03,220),(14.82,223),(11.99,215),(12.30,206),(12.03,165),(12.02,150),(14.98,142),(15.30,148),(15.85,148),(11.86,250),(11.94,249),(11.55,249),(11.62,249),(11.77,238),(11.84,238),(11.55,236),(11.50,234),(11.95,228),(11.88,226),(11.69,226),(11.42,228),(11.42,224),(11.53,215),(11.47,208),(11.35,212),(11.16,210),(11.02,208),(11.23,201),(10.95,197),(11.04,194),(11.27,187),(11.13,180),(11.73,184),(11.85,188),(10.99,172),(11.08,165),(11.42,166),(11.43,157),(11.21,132),(11.30,126),(11.06,114),(11.30,109),(11.44,114),(11.41,103),(11.31,100),(11.05,81),(11.42,81),(11.20,60),(11.47,60),(11.87,60),(11.55,261),(11.36,261),(11.18,258),(11.04,261),(11.04,254),(11.0,247),(11.17,247),(11.26,249),(11.04,270),(11.03,232),(11.45,273),(11.32,270),(11.14,287),(11.21,278),(11.06,287),(11.06,303),(11.03,294),(11.21,298),(11.33,298),(11.42,298),(11.35,307),(11.28,317),(11.43,312),(11.64,285),(11.72,286),(11.64,276),(11.76,298),(11.60,312),(11.77,318),(11.83,316),(11.62,323),(11.64,327),(12.03,330),(11.99,322)]
neg_edge = [(16.39,205),(16.28,281),(16.38,281),(16.22,239),(15.89,239),(15.85,254),(15.60,253),(16.30,148),(16.29,142),(15.85,148),(15.30,148),(14.99,142),(14.82,223),(15.12,239),(14.73,239),(15.33,268),(15.27,295),(15.0,267),(14.95,268),(14.76,268),(14.80,281),(14.73,279),(14.72,293),(16.32,809),(16.33,776),(16.31,715),(16.32,682),(16.38,405),(16.29,365),(15.97,360),(16.29,282),(16.39,282),(15.89,389),(15.76,357),(15.75,306),(15.50,258),(15.86,258),(15.59,716)]

esi_pos = (pos_low_left + pos_top_mid + pos_streak_12 + pos_top_right + pos_mid_a + pos_mid_b
           + pos_mid_c + pos_right_a + pos_right_b + pos_dense_11 + pos_low_a + pos_low_b
           + pos_low_right + pos_edge_16 + pos_extra_a + pos_extra_b + pos_extra_c + pos_extra_d)
esi_neg = (neg_left + neg_top_mid + neg_top_right + neg_col_77 + neg_mid + neg_right_a
           + neg_right_b + neg_low_a + neg_low_b + neg_edge)

GRID = "#808080"
FONT = "Liberation Sans"

fig = go.Figure()
fig.add_trace(go.Scatter(x=[p[0] for p in esi_pos], y=[p[1] for p in esi_pos], mode="markers",
                         marker=dict(symbol="square", size=10, color="#0000FF", line=dict(width=0)),
                         cliponaxis=False, showlegend=False))
fig.add_trace(go.Scatter(x=[p[0] for p in esi_neg], y=[p[1] for p in esi_neg], mode="markers",
                         marker=dict(symbol="square", size=10, color="#FF6600", line=dict(width=0)),
                         cliponaxis=False, showlegend=False))

fig.update_layout(
    width=1704, height=1051, autosize=False,
    margin=dict(l=130.5, r=16, t=18.5, b=119.5, autoexpand=False),
    paper_bgcolor="white", plot_bgcolor="white",
    font=dict(family=FONT, size=24, color="#000000"),
    showlegend=False,
    xaxis=dict(range=[2, 18], tickvals=x_ticks, ticks="outside", ticklen=8, tickcolor=GRID,
               tickwidth=1.5, showgrid=True, gridcolor=GRID, gridwidth=1.5, zeroline=False,
               showline=True, linecolor=GRID, linewidth=1.5, mirror=True, automargin=False,
               ticklabelstandoff=4,
               tickfont=dict(size=24, family=FONT, color="#000000")),
    yaxis=dict(range=[0, 1000], tickvals=y_ticks, ticks="outside", ticklen=7, tickcolor=GRID,
               tickwidth=1.5, showgrid=True, gridcolor=GRID, gridwidth=1.5, zeroline=False,
               showline=True, linecolor=GRID, linewidth=1.5, mirror=True, automargin=False,
               tickfont=dict(size=24, family=FONT, color="#000000")),
    shapes=[dict(type="rect", xref="paper", yref="paper", x0=0.0286, x1=0.1942, y0=0.6643, y1=0.9414,
                 fillcolor="white", line=dict(width=0), layer="below")],
    annotations=[
        dict(text=labels[0], xref="paper", yref="paper", x=0.0397, y=0.9107, xanchor="left", yanchor="middle",
             showarrow=False, font=dict(size=42, color="#0000FF", family=FONT)),
        dict(text=labels[1], xref="paper", yref="paper", x=0.0397, y=0.8263, xanchor="left", yanchor="middle",
             showarrow=False, font=dict(size=42, color="#FF6600", family=FONT)),
        dict(text=labels[2], xref="paper", yref="paper", x=0.0397, y=0.7431, xanchor="left", yanchor="middle",
             showarrow=False, font=dict(size=42, color="#555555", family=FONT)),
        dict(text="<b>%s</b>" % x_title, xref="paper", yref="paper", x=0.4851, y=-0.1079, xanchor="center", yanchor="middle",
             showarrow=False, font=dict(size=48, color="#333399", family=FONT)),
        dict(text="<b>%s</b>" % y_title, xref="paper", yref="paper", x=-0.0629, y=0.4238, xanchor="center", yanchor="middle",
             textangle=-90, showarrow=False, font=dict(size=48, color="#333399", family=FONT)),
    ],
)
fig.write_html("out.html", config={"displayModeBar": False},
               post_script="document.body.style.margin='0';document.documentElement.style.overflow='hidden';")
